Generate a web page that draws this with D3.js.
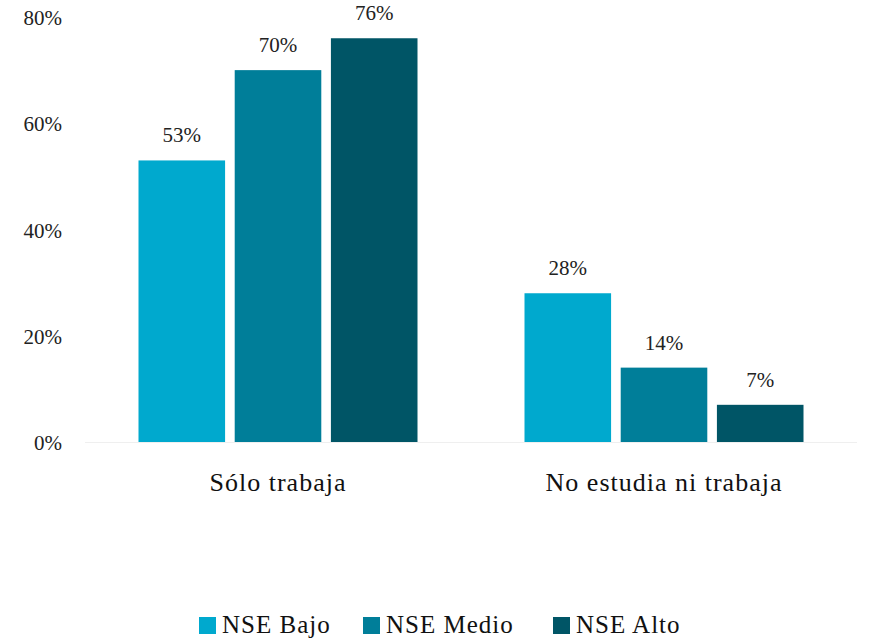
<!DOCTYPE html>
<html>
<head>
<meta charset="utf-8">
<script src="https://cdn.jsdelivr.net/npm/d3@7/dist/d3.min.js"></script>
<style>
  html, body { margin: 0; padding: 0; background: #fff; }
  svg { display: block; font-family: "Liberation Serif", "DejaVu Serif", serif; }
</style>
</head>
<body>
<svg id="chart" width="877" height="639"></svg>
<script>
// Share of young people by activity and socioeconomic level
const categories = ["Sólo trabaja", "No estudia ni trabaja"];
const seriesNames = ["NSE Bajo", "NSE Medio", "NSE Alto"];
const nseBajo = [53, 28];
const nseMedio = [70, 14];
const nseAlto = [76, 7];
const yTicks = [0, 20, 40, 60, 80];
const colors = ["#00A9CE", "#007E99", "#005566"];

const seriesValues = [nseBajo, nseMedio, nseAlto];
const serif = '"Liberation Serif", "DejaVu Serif", serif';

const svg = d3.select("#chart");
const margin = { left: 85, right: 20, top: 17 };
const width = 877 - margin.left - margin.right;
const baseY = 442;

const x0 = d3.scaleBand().domain(categories).range([margin.left, margin.left + width]).padding(0);
const x1 = d3.scaleBand().domain(seriesNames).range([0, 279]).paddingInner(0.1);
const y = d3.scaleLinear().domain([0, 80]).range([baseY, margin.top]);

// Y axis labels
const yAxis = d3.axisLeft(y).tickValues(yTicks).tickFormat(d => d + "%").tickSize(0).tickPadding(0);
const gy = svg.append("g").attr("transform", "translate(62,0)").call(yAxis)
  .attr("font-family", serif).attr("font-size", 21);
gy.select(".domain").remove();
gy.selectAll("text").attr("fill", "#222").attr("dy", "0.36em");

// Baseline
svg.append("line")
  .attr("x1", margin.left).attr("x2", margin.left + width)
  .attr("y1", baseY + 0.5).attr("y2", baseY + 0.5)
  .attr("stroke", "#efefef").attr("stroke-width", 1);

// Bars
const groups = svg.selectAll("g.cat").data(categories).join("g")
  .attr("class", "cat")
  .attr("transform", c => `translate(${x0(c) + x0.bandwidth() / 2 - 139.5},0)`);

groups.each(function(c, ci) {
  const g = d3.select(this);
  seriesNames.forEach((s, si) => {
    const v = seriesValues[si][ci];
    g.append("rect")
      .attr("x", x1(s)).attr("width", x1.bandwidth())
      .attr("y", y(v)).attr("height", baseY - y(v))
      .attr("fill", colors[si]);
    g.append("text")
      .attr("x", x1(s) + x1.bandwidth() / 2)
      .attr("y", y(v) - 18)
      .attr("text-anchor", "middle")
      .attr("font-size", 21).attr("fill", "#222")
      .text(v + "%");
  });
});

// Category axis
const xAxis = d3.axisBottom(x0).tickSize(0).tickPadding(0);
const gx = svg.append("g").attr("transform", `translate(0,${baseY + 49})`).call(xAxis)
  .attr("font-family", serif).attr("font-size", 26);
gx.select(".domain").remove();
gx.selectAll("text").attr("fill", "#111").attr("dy", 0).attr("letter-spacing", 1);

// Legend
const legendX = [199, 363, 553];
const legend = svg.selectAll("g.leg").data(seriesNames).join("g")
  .attr("class", "leg")
  .attr("transform", (d, i) => `translate(${legendX[i]},617)`);
legend.append("rect").attr("width", 17).attr("height", 17).attr("fill", (d, i) => colors[i]);
legend.append("text").attr("x", 23).attr("y", 16).attr("font-size", 25)
  .attr("letter-spacing", 1).attr("fill", "#111").text(d => d);
</script>
</body>
</html>
